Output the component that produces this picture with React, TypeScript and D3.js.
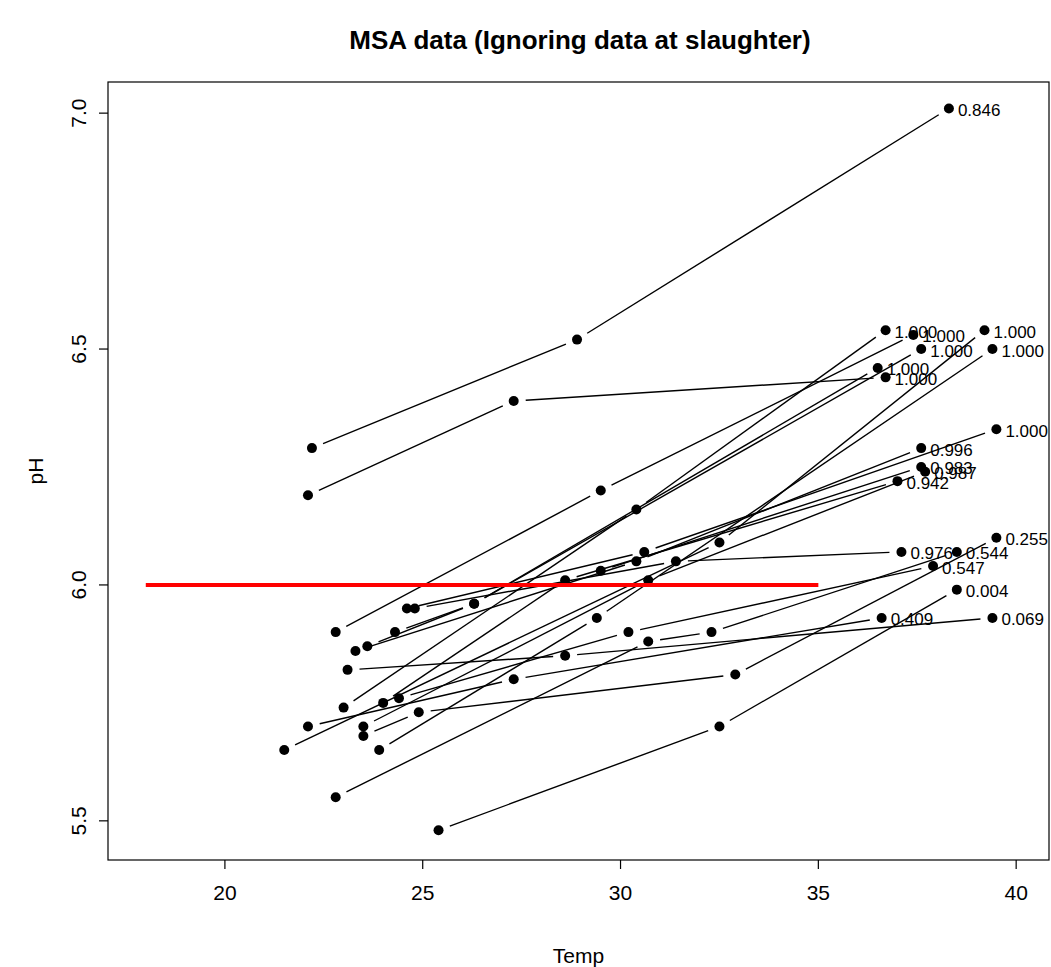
import React from "react";
import * as d3 from "d3";

// each carcass: temperature readings and pH readings in time order (hot end last),
// the last reading carries the probability label
const tempSeries: number[][] = [
  [22.2, 28.9, 38.3],
  [22.1, 27.3, 36.7],
  [23.0, 30.4, 36.7],
  [22.8, 29.5, 37.4],
  [24.3, 26.3, 37.6],
  [23.6, 26.3, 36.5],
  [21.5, 32.5, 39.2],
  [23.9, 29.4, 39.4],
  [24.6, 30.6, 39.5],
  [23.3, 30.4, 37.6],
  [29.5, 37.6],
  [23.5, 30.7, 37.7],
  [24.0, 28.6, 37.0],
  [23.5, 24.9, 32.9, 39.5],
  [24.8, 31.4, 37.1],
  [22.8, 30.7, 32.3, 38.5],
  [24.4, 30.2, 37.9],
  [25.4, 32.5, 38.5],
  [22.1, 27.3, 36.6],
  [23.1, 28.6, 39.4],
];
const phSeries: number[][] = [
  [6.29, 6.52, 7.01],
  [6.19, 6.39, 6.44],
  [5.74, 6.16, 6.54],
  [5.90, 6.20, 6.53],
  [5.90, 5.96, 6.50],
  [5.87, 5.96, 6.46],
  [5.65, 6.09, 6.54],
  [5.65, 5.93, 6.50],
  [5.95, 6.07, 6.33],
  [5.86, 6.05, 6.29],
  [6.03, 6.25],
  [5.70, 6.01, 6.24],
  [5.75, 6.01, 6.22],
  [5.68, 5.73, 5.81, 6.10],
  [5.95, 6.05, 6.07],
  [5.55, 5.88, 5.90, 6.07],
  [5.76, 5.90, 6.04],
  [5.48, 5.70, 5.99],
  [5.70, 5.80, 5.93],
  [5.82, 5.85, 5.93],
];
const probLabels = [
  "0.846", "1.000", "1.000", "1.000", "1.000", "1.000", "1.000", "1.000",
  "1.000", "0.996", "0.983", "0.987", "0.942", "0.255", "0.976", "0.544",
  "0.547", "0.004", "0.409", "0.069",
];
const xTicks = [20, 25, 30, 35, 40];
const yTicks = [5.5, 6.0, 6.5, 7.0];
const refTemp = [18, 35];
const refPH = 6.0;

const W = 1051;
const H = 967;
const plot = { left: 108, right: 1049, top: 82, bottom: 860 };
const font = "'Liberation Sans', Arial, Helvetica, sans-serif";

export default function App() {
  const x = d3.scaleLinear().domain([17.045, 40.83]).range([plot.left, plot.right]);
  const y = d3.scaleLinear().domain([5.417, 7.066]).range([plot.bottom, plot.top]);

  const gap = 12; // type="b" style gap around points
  const segs: { x1: number; y1: number; x2: number; y2: number }[] = [];
  tempSeries.forEach((ts, i) => {
    const ps = phSeries[i];
    for (let k = 0; k < ts.length - 1; k++) {
      const ax = x(ts[k]), ay = y(ps[k]);
      const bx = x(ts[k + 1]), by = y(ps[k + 1]);
      const len = Math.hypot(bx - ax, by - ay);
      if (len <= 2 * gap) continue;
      const ux = (bx - ax) / len, uy = (by - ay) / len;
      segs.push({ x1: ax + ux * gap, y1: ay + uy * gap, x2: bx - ux * gap, y2: by - uy * gap });
    }
  });

  const refLine = d3.line<number>()
    .x((d) => x(d))
    .y(() => y(refPH));

  return (
    <svg width={W} height={H} style={{ position: "absolute", left: 0, top: 0, background: "#fff" }}
      fontFamily={font}>
      <rect x={0} y={0} width={W} height={H} fill="#fff" />
      <text x={580} y={49} textAnchor="middle" fontSize={26} fontWeight="bold">
        MSA data (Ignoring data at slaughter)
      </text>

      {segs.map((s, i) => (
        <line key={"s" + i} x1={s.x1} y1={s.y1} x2={s.x2} y2={s.y2} stroke="#000" strokeWidth={1.4} />
      ))}

      {tempSeries.map((ts, i) =>
        ts.map((t, k) => (
          <circle key={`p${i}-${k}`} cx={x(t)} cy={y(phSeries[i][k])} r={5} fill="#000" />
        ))
      )}

      {tempSeries.map((ts, i) => {
        const n = ts.length - 1;
        return (
          <text key={"l" + i} x={x(ts[n]) + 9} y={y(phSeries[i][n]) + 3} fontSize={17}
            dominantBaseline="middle">
            {probLabels[i]}
          </text>
        );
      })}

      <path d={refLine(refTemp) || ""} stroke="#ff0000" strokeWidth={4} fill="none" />

      <rect x={plot.left} y={plot.top} width={plot.right - plot.left} height={plot.bottom - plot.top}
        fill="none" stroke="#000" strokeWidth={1.2} />

      {xTicks.map((t) => (
        <g key={"xt" + t}>
          <line x1={x(t)} x2={x(t)} y1={plot.bottom} y2={plot.bottom + 9} stroke="#000" strokeWidth={1.2} />
          <text x={x(t)} y={900} textAnchor="middle" fontSize={21}>{t}</text>
        </g>
      ))}
      {yTicks.map((t) => (
        <g key={"yt" + t}>
          <line x1={plot.left - 9} x2={plot.left} y1={y(t)} y2={y(t)} stroke="#000" strokeWidth={1.2} />
          <text transform={`translate(86,${y(t)}) rotate(-90)`} textAnchor="middle" fontSize={21}>
            {t.toFixed(1)}
          </text>
        </g>
      ))}

      <text x={(plot.left + plot.right) / 2} y={963} textAnchor="middle" fontSize={21}>Temp</text>
      <text transform={`translate(43,${(plot.top + plot.bottom) / 2}) rotate(-90)`} textAnchor="middle"
        fontSize={21}>pH</text>
    </svg>
  );
}
